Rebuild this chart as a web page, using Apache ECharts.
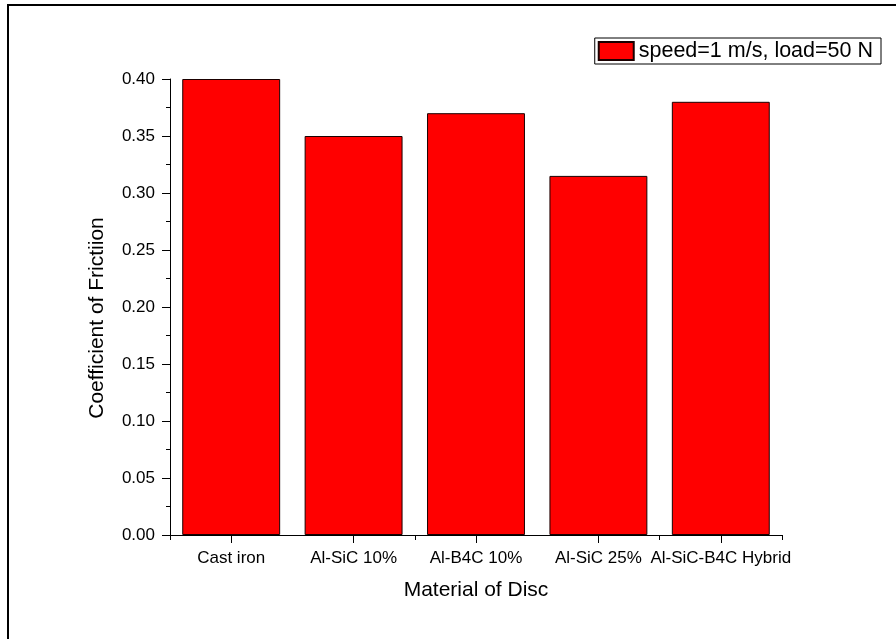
<!DOCTYPE html>
<html>
<head>
<meta charset="utf-8">
<script src="https://cdn.jsdelivr.net/npm/echarts@6/dist/echarts.min.js"></script>
<style>html,body{margin:0;padding:0;background:#fff;}#c{width:896px;height:639px;}</style>
</head>
<body>
<div id="c"></div>
<script>
const categories = ["Cast iron", "Al-SiC 10%", "Al-B4C 10%", "Al-SiC 25%", "Al-SiC-B4C Hybrid"];
const frictionValues = [0.40, 0.35, 0.37, 0.315, 0.38];
const seriesName = "speed=1 m/s, load=50 N";
const xTitle = "Material of Disc";
const yTitle = "Coefficient of Frictiion";

const FONT = "Liberation Sans, Arial, sans-serif";
const chart = echarts.init(document.getElementById('c'), null, {renderer: 'canvas'});
chart.setOption({
  animation: false,
  backgroundColor: '#fff',
  textStyle: {fontFamily: FONT, color: '#000'},
  graphic: [{
    type: 'rect', silent: true, z: 100,
    shape: {x: 8, y: 5, width: 2000, height: 2000},
    style: {fill: 'none', stroke: '#000', lineWidth: 2}
  }, {
    type: 'text', silent: true,
    x: 97, y: 318, rotation: Math.PI / 2,
    style: {text: yTitle, fontSize: 21, fontFamily: FONT, fill: '#000',
      align: 'center', verticalAlign: 'middle'}
  }],
  grid: {left: 170, right: 114, top: 79, bottom: 104, containLabel: false},
  legend: {
    show: true,
    right: 15, top: 38,
    icon: 'rect',
    itemWidth: 35, itemHeight: 18,
    itemGap: 5,
    padding: [2, 8, 2, 3],
    borderColor: '#000', borderWidth: 1,
    textStyle: {fontFamily: FONT, fontSize: 21.5, color: '#000', lineHeight: 21}
  },
  xAxis: [{
    type: 'category',
    data: categories,
    position: 'bottom',
    axisLine: {show: true, lineStyle: {color: '#000', width: 1}},
    axisTick: {show: true, alignWithLabel: true, length: 8, inside: false, lineStyle: {color: '#000'}},
    axisLabel: {show: true, interval: 0, margin: 15, fontSize: 17, color: '#000', fontFamily: FONT},
    name: xTitle, nameLocation: 'middle', nameGap: 45,
    nameTextStyle: {fontSize: 21, color: '#000', fontFamily: FONT},
    splitLine: {show: false}
  }, {
    type: 'category',
    data: categories,
    position: 'bottom',
    axisLine: {show: false},
    axisTick: {show: true, alignWithLabel: false, length: 5, inside: false, lineStyle: {color: '#000'}},
    axisLabel: {show: false},
    splitLine: {show: false}
  }],
  yAxis: {
    type: 'value',
    min: 0, max: 0.4, interval: 0.05,
    position: 'left',
    axisLine: {show: true, lineStyle: {color: '#000', width: 1}},
    axisTick: {show: true, length: 8, inside: false, lineStyle: {color: '#000'}},
    minorTick: {show: true, splitNumber: 2, length: 4, lineStyle: {color: '#000'}},
    axisLabel: {margin: 15, fontSize: 17, color: '#000', fontFamily: FONT,
      formatter: v => v.toFixed(2)},
    splitLine: {show: false}
  },
  series: [{
    name: seriesName,
    type: 'bar',
    data: frictionValues,
    barCategoryGap: '20%',
    itemStyle: {color: '#ff0000', borderColor: '#1a0000', borderWidth: 1}
  }]
});
</script>
</body>
</html>
